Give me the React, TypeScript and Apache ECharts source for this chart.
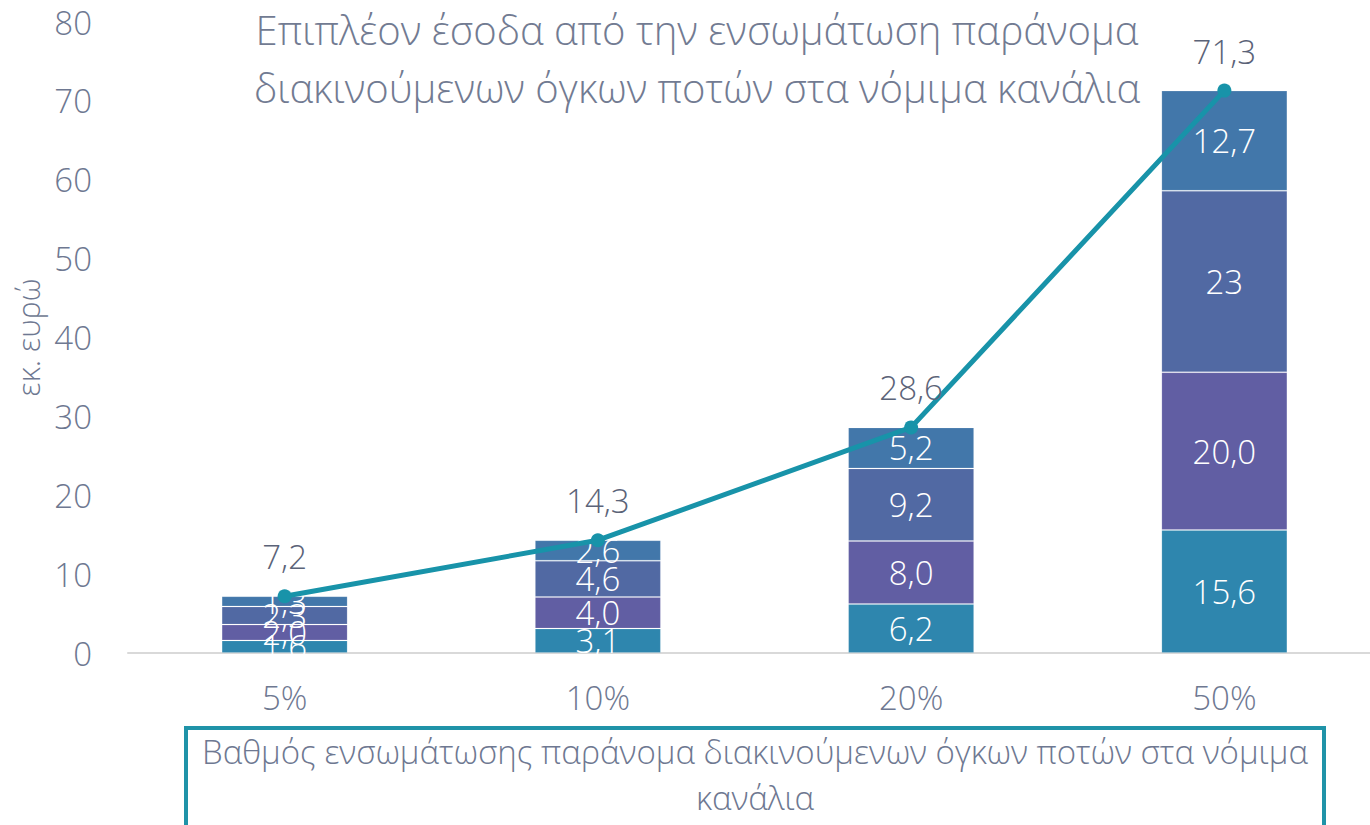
import React, { useEffect, useRef } from "react";
import * as echarts from "echarts";

const categories = ["5%", "10%", "20%", "50%"];
const seriesA = [1.6, 3.1, 6.2, 15.6];
const seriesB = [2.0, 4.0, 8.0, 20.0];
const seriesC = [2.3, 4.6, 9.2, 23];
const seriesD = [1.3, 2.6, 5.2, 12.7];
const totals = [7.2, 14.3, 28.6, 71.3];
const seriesCLabelOverride = ["", "", "", "23"];
const yTicks = { min: 0, max: 80, interval: 10 };

const titleText = "Επιπλέον έσοδα από την ενσωμάτωση παράνομα\nδιακινούμενων όγκων ποτών στα νόμιμα κανάλια";
const xName = "Βαθμός ενσωμάτωσης παράνομα διακινούμενων όγκων ποτών στα νόμιμα\nκανάλια";
const yName = "εκ. ευρώ";

const FONT = "'Open Sans', 'Noto Sans', sans-serif";
const fmt = (v: number) => v.toFixed(1).replace(".", ",");

export default function App() {
  const ref = useRef<HTMLDivElement>(null);
  useEffect(() => {
    if (!ref.current) return;
    const chart = echarts.init(ref.current, undefined, { renderer: "svg" });
    const barColors = ["#2E86AE", "#615EA3", "#5169A3", "#4277AA"];
    const barData = [seriesA, seriesB, seriesC, seriesD];
    const barSeries = barData.map((d, i) => ({
      type: "bar",
      stack: "total",
      data: d,
      barWidth: 126,
      itemStyle: { color: barColors[i], borderColor: "rgba(255,255,255,0.15)", borderWidth: 1 },
      label: {
        show: true,
        position: "inside",
        color: "#ffffff",
        fontSize: 33,
        fontFamily: FONT,
        fontWeight: 300,
        formatter: (p: any) =>
          i === 2 && seriesCLabelOverride[p.dataIndex] ? seriesCLabelOverride[p.dataIndex] : fmt(p.value),
      },
      emphasis: { disabled: true },
      z: 2,
    }));
    chart.setOption({
      animation: false,
      grid: { left: 128, right: 9, top: 22, bottom: 172, containLabel: false, outerBoundsMode: "none" },
      xAxis: {
        type: "category",
        data: categories,
        axisLine: { lineStyle: { color: "#D9D9D9", width: 2 } },
        axisTick: { show: false },
        axisLabel: { color: "#6E7891", fontSize: 33, fontFamily: FONT, fontWeight: 300, margin: 28 },
      },
      yAxis: {
        type: "value",
        min: yTicks.min,
        max: yTicks.max,
        interval: yTicks.interval,
        splitLine: { show: false },
        axisLine: { show: false },
        axisTick: { show: false },
        axisLabel: { color: "#6E7891", fontSize: 33, fontFamily: FONT, fontWeight: 300, margin: 36 },
        name: yName,
        nameLocation: "middle",
        nameRotate: 90,
        nameGap: 82,
        nameTextStyle: { color: "#6E7891", fontSize: 31, fontFamily: FONT, fontWeight: 300, padding: [0, 0, 0, 0] },
      },
      series: [
        ...barSeries,
        {
          type: "line",
          data: totals,
          symbol: "circle",
          symbolSize: 14,
          lineStyle: { color: "#1893A9", width: 5 },
          itemStyle: { color: "#1893A9" },
          label: {
            show: true,
            position: "top",
            distance: 16,
            color: "#5B6378",
            fontSize: 33,
            fontFamily: FONT,
            fontWeight: 300,
            formatter: (p: any) => fmt(p.value),
          },
          emphasis: { disabled: true },
          z: 5,
        },
      ],
      graphic: [
        {
          type: "text",
          style: {
            text: titleText,
            x: 697,
            y: 0,
            textAlign: "center",
            fill: "#727B92",
            fontSize: 40,
            fontFamily: FONT,
            fontWeight: 300,
            lineHeight: 58,
          },
        },
        {
          type: "rect",
          shape: { x: 186, y: 728, width: 1138, height: 110 },
          style: { fill: "none", stroke: "#1F93A8", lineWidth: 4 },
        },
        {
          type: "text",
          style: {
            text: xName,
            x: 755,
            y: 728,
            textAlign: "center",
            fill: "#6E7891",
            fontSize: 33,
            fontFamily: FONT,
            fontWeight: 300,
            lineHeight: 46,
          },
        },
      ],
    });
    return () => chart.dispose();
  }, []);
  return (
    <div style={{ position: "absolute", left: 0, top: 0, width: 1370, height: 825, overflow: "hidden", background: "#fff" }}>
      <div ref={ref} style={{ width: 1390, height: 825 }} />
    </div>
  );
}
